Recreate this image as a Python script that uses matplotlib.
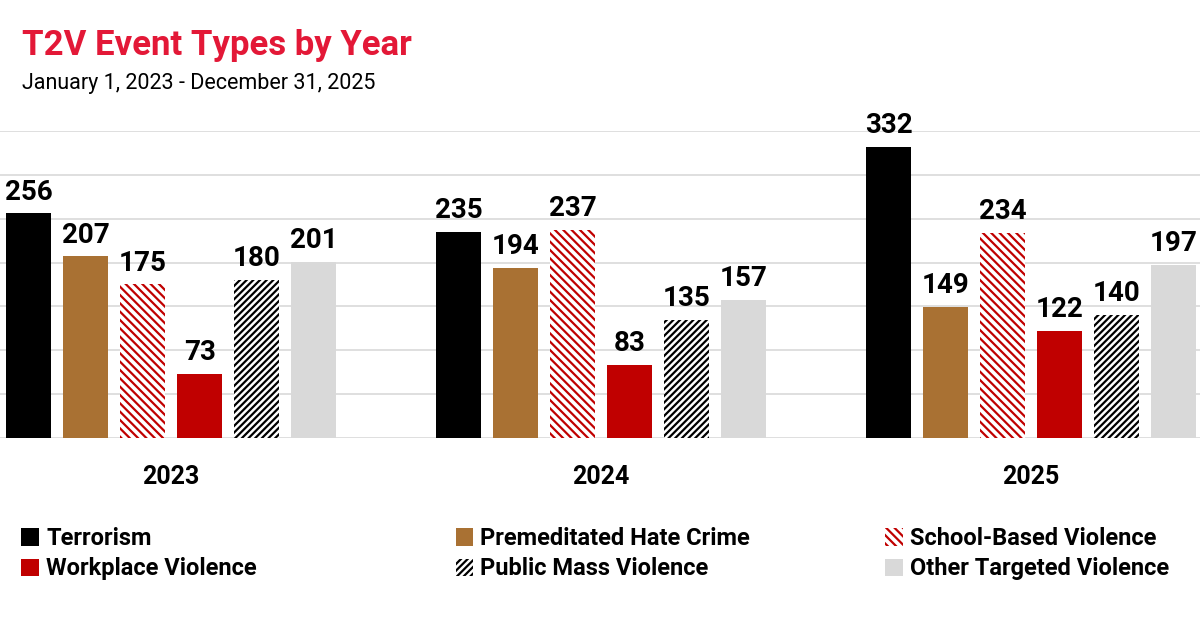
import matplotlib.pyplot as plt
import numpy as np
from matplotlib.patches import Patch

plt.rcParams["font.family"] = ["Roboto", "DejaVu Sans"]
plt.rcParams["hatch.linewidth"] = 1.6

years = ["2023", "2024", "2025"]
categories = ["Terrorism", "Premeditated Hate Crime", "School-Based Violence",
              "Workplace Violence", "Public Mass Violence", "Other Targeted Violence"]
values = {
    "Terrorism": [256, 235, 332],
    "Premeditated Hate Crime": [207, 194, 149],
    "School-Based Violence": [175, 237, 234],
    "Workplace Violence": [73, 83, 122],
    "Public Mass Violence": [180, 135, 140],
    "Other Targeted Violence": [201, 157, 197],
}
styles = {
    "Terrorism": dict(facecolor="black", edgecolor="black", hatch=None),
    "Premeditated Hate Crime": dict(facecolor="#A97133", edgecolor="#A97133", hatch=None),
    "School-Based Violence": dict(facecolor="white", edgecolor="#C00000", hatch="\\\\\\\\"),
    "Workplace Violence": dict(facecolor="#C00000", edgecolor="#C00000", hatch=None),
    "Public Mass Violence": dict(facecolor="white", edgecolor="black", hatch="/////"),
    "Other Targeted Violence": dict(facecolor="#D9D9D9", edgecolor="#D9D9D9", hatch=None),
}

fig = plt.figure(figsize=(12, 6.3), dpi=100)
ax = fig.add_axes([0, 0.305, 1, 0.487])
x = np.arange(len(years))
step, width = 0.1326, 0.105
for i, cat in enumerate(categories):
    pos = x + (i - 2.5) * step
    st = styles[cat]
    bars = ax.bar(pos, values[cat], width, facecolor=st["facecolor"],
                  edgecolor=st["edgecolor"], hatch=st["hatch"], linewidth=0, zorder=3)
    for b, v in zip(bars, values[cat]):
        ax.text(b.get_x() + b.get_width() / 2, v + 9, str(v), ha="center", va="bottom",
                fontsize=20, fontweight="bold", clip_on=False)

ax.set_xlim(-0.398, 2.393)
ax.set_ylim(0, 350)
ax.set_yticks(np.arange(0, 351, 50))
ax.yaxis.grid(True, color="#D9D9D9", linewidth=1.2, zorder=0)
ax.tick_params(left=False, labelleft=False, bottom=False)
ax.set_xticks(x)
ax.set_xticklabels(years, fontsize=18, fontweight="bold")
ax.tick_params(axis="x", pad=16)
for s in ax.spines.values():
    s.set_visible(False)

fig.text(0.018, 0.927, "T2V Event Types by Year", color="#E31837", fontsize=25,
         fontweight="bold", va="center")
fig.text(0.018, 0.868, "January 1, 2023 - December 31, 2025", fontsize=15.5, va="center")

handles = {c: Patch(facecolor=styles[c]["facecolor"], edgecolor=styles[c]["edgecolor"],
                    hatch=styles[c]["hatch"], linewidth=0) for c in categories}
columns = [["Terrorism", "Workplace Violence"],
           ["Premeditated Hate Crime", "Public Mass Violence"],
           ["School-Based Violence", "Other Targeted Violence"]]
for left, col in zip([0.0, 0.362, 0.72], columns):
    leg = fig.legend([handles[c] for c in col], col, loc="lower left",
                     bbox_to_anchor=(left, 0.045), frameon=False,
                     handlelength=0.75, handleheight=0.75, handletextpad=0.3,
                     labelspacing=0.3, prop=dict(size=17, weight="bold"))
fig.savefig("out.png", dpi=100)
